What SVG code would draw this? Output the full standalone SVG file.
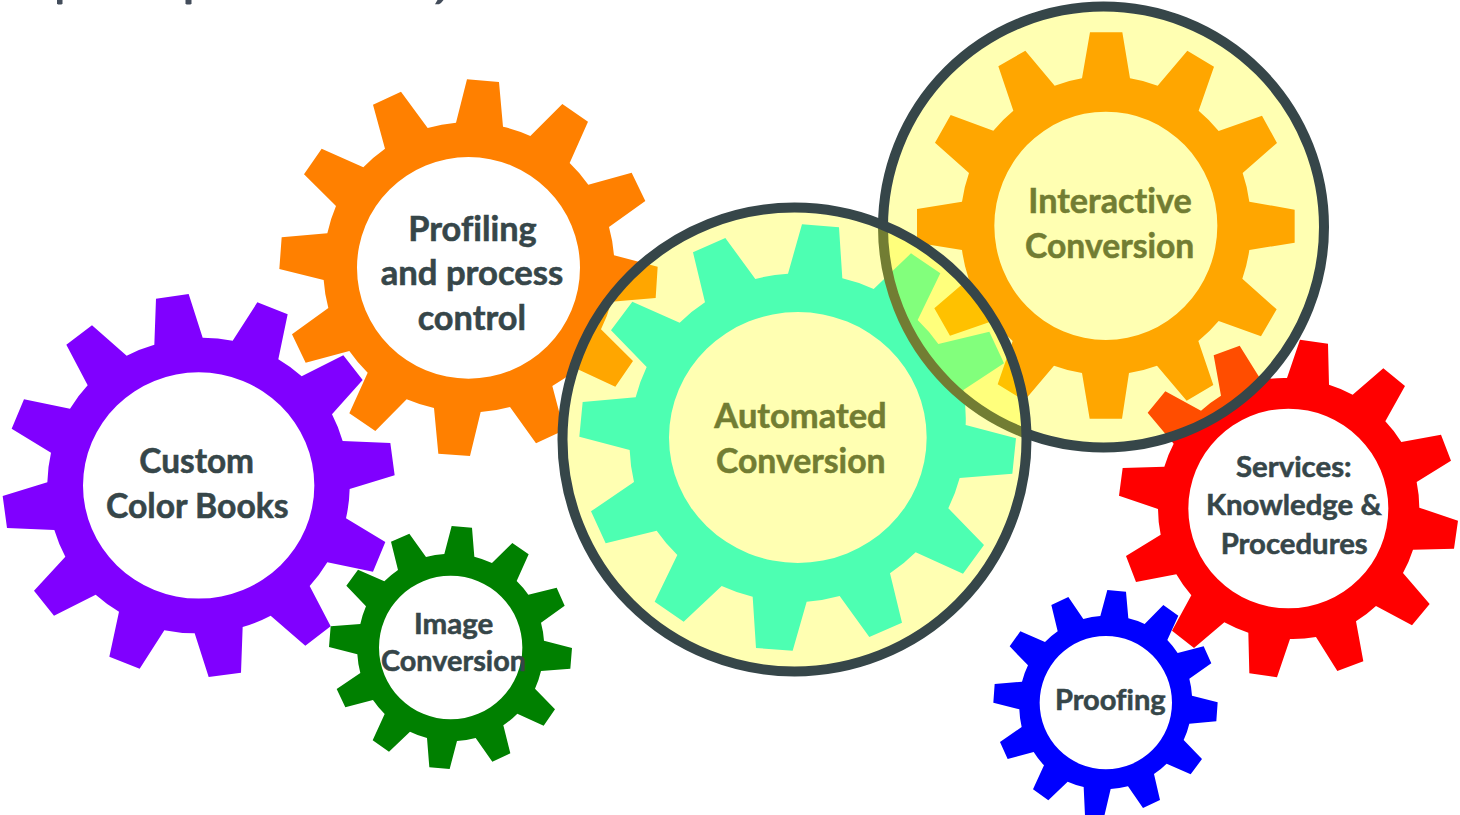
<svg xmlns="http://www.w3.org/2000/svg" width="1460" height="815" viewBox="0 0 1460 815">
<style>
text{font-family:"Lato","Carlito","Liberation Sans",sans-serif;font-weight:700;fill:#364649;stroke:#364649;stroke-width:.55;text-anchor:middle;font-variant-ligatures:none}
.l{font-size:33.5px}.s{font-size:29px}
.z{fill-rule:evenodd}
.halo{fill:#ffff00;fill-opacity:.3;stroke:none}
.ring{fill:none;stroke:#364649;stroke-width:10}
.frag{fill:#434d5b}
</style>
<rect width="1460" height="815" fill="#fff"/>
<g id="title-fragment"><polygon class="frag" points="57,0 62.5,0 62.5,3.6 61.5,4.4 58,4.4 57,3.6"/><polygon class="frag" points="185.5,0 191.5,0 191.5,3.6 190.5,4.4 186.5,4.4 185.5,3.6"/><polygon class="frag" points="437.5,0 443.5,0 441,3 439,4.3 435,4.3"/></g>

<g id="custom-color-books">
<path class="z" fill="#8000ff" transform="translate(0,285) scale(.33333)" d="M468 41L566 27L608 158A450 450 0 0 1 698 167L772 52L863 88L835 223A450 450 0 0 1 905 274L1030 211L1088 285L996 388A450 450 0 0 1 1028 468L1171 474L1184 571L1049 612A450 450 0 0 1 1038 700L1156 771L1119 860L982 832A450 450 0 0 1 929 903L992 1024L916 1082L812 992A450 450 0 0 1 728 1026L723 1163L626 1176L584 1045A450 450 0 0 1 493 1036L419 1151L328 1115L357 980A450 450 0 0 1 287 929L162 992L102 917L196 815A450 450 0 0 1 163 735L21 729L8 633L142 592A450 450 0 0 1 153 503L35 431L72 343L210 371A450 450 0 0 1 263 301L199 179L276 121L380 212A450 450 0 0 1 463 179ZM249 601.5A347 339.5 0 0 0 943 601.5A347 339.5 0 0 0 249 601.5Z"/>
<text class="l" x="196.7" y="472.5" textLength="114.7" lengthAdjust="spacingAndGlyphs">Custom</text>
<text class="l" x="197.3" y="517.5" textLength="182.7" lengthAdjust="spacingAndGlyphs">Color Books</text>
</g>

<g id="profiling">
<path class="z" fill="#ff8000" transform="translate(270,70) scale(.33333)" d="M591 28L687 36L699 170A440 440 0 0 1 781 198L877 102L954 155L899 279A440 440 0 0 1 955 344L1085 308L1126 393L1017 471A440 440 0 0 1 1032 556L1163 590L1157 684L1024 695A440 440 0 0 1 993 778L1089 873L1036 950L920 896A440 440 0 0 1 847 948L882 1081L798 1120L720 1011A440 440 0 0 1 632 1026L600 1158L505 1151L492 1014A440 440 0 0 1 410 988L316 1083L238 1030L293 908A440 440 0 0 1 238 843L107 878L66 793L175 714A440 440 0 0 1 161 630L28 597L35 502L172 490A440 440 0 0 1 198 408L102 313L155 236L280 292A440 440 0 0 1 345 236L309 104L393 65L473 174A440 440 0 0 1 558 158ZM261 593.5A334.500 332.500 0 0 0 930 593.5A334.500 332.500 0 0 0 261 593.5Z"/>
<text class="l" x="472.5" y="240.8" textLength="128.3" lengthAdjust="spacingAndGlyphs">Profiling</text>
<text class="l" x="472" y="284.8" textLength="182.7" lengthAdjust="spacingAndGlyphs">and process</text>
<text class="l" x="471.8" y="329.8" textLength="108.3" lengthAdjust="spacingAndGlyphs">control</text>
</g>

<g id="image-conversion">
<path class="z" fill="#008000" transform="translate(320,520) scale(.33333)" d="M395 18L456 23L463 110A280 280 0 0 1 516 129L577 69L626 103L590 183A280 280 0 0 1 625 224L710 203L734 257L663 308A280 280 0 0 1 672 362L756 384L751 446L663 453A280 280 0 0 1 645 506L705 568L671 617L592 581A280 280 0 0 1 550 616L571 700L517 725L467 654A280 280 0 0 1 411 663L389 747L328 742L321 654A280 280 0 0 1 270 635L207 695L158 661L194 582A280 280 0 0 1 159 540L76 562L50 507L121 459A280 280 0 0 1 112 403L27 381L32 319L121 312A280 280 0 0 1 138 259L79 197L114 149L193 184A280 280 0 0 1 234 150L213 65L268 41L318 111A280 280 0 0 1 373 102ZM177 382.500A215 215.500 0 0 0 607 382.500A215 215.500 0 0 0 177 382.500Z"/>
<text class="s" x="453.700" y="634" textLength="79.3" lengthAdjust="spacingAndGlyphs">Image</text>
<text class="s" x="453.500" y="671.2" textLength="145" lengthAdjust="spacingAndGlyphs">Conversion</text>
</g>

<g id="proofing">
<path class="z" fill="#0000ff" transform="translate(985,585) scale(.33333)" d="M367 15L423 20L430 100A258 258 0 0 1 479 117L535 60L580 92L547 165A258 258 0 0 1 578 204L656 184L679 235L613 281A258 258 0 0 1 621 332L698 352L694 409L613 416A258 258 0 0 1 596 465L651 522L617 568L545 536A258 258 0 0 1 507 567L525 645L474 669L429 604A258 258 0 0 1 377 612L357 697L300 692L296 606A258 258 0 0 1 248 590L190 646L144 613L177 541A258 258 0 0 1 146 501L68 522L45 471L110 426A258 258 0 0 1 103 373L25 353L29 297L111 290A258 258 0 0 1 129 241L74 184L106 139L180 171A258 258 0 0 1 218 139L199 60L250 36L295 102A258 258 0 0 1 346 93ZM164 353A198.500 200 0 0 0 561 353A198.500 200 0 0 0 164 353Z"/>
<text class="s" x="1110.3" y="710" textLength="110.700" lengthAdjust="spacingAndGlyphs">Proofing</text>
</g>

<g id="services">
<path class="z" fill="#ff0000" transform="translate(1110,330) scale(.33333)" d="M570 29L654 41L657 164A395 395 0 0 1 728 194L820 115L885 168L826 274A395 395 0 0 1 874 336L993 314L1023 392L920 456A395 395 0 0 1 928 533L1044 572L1032 656L909 659A395 395 0 0 1 879 729L959 822L906 886L798 828A395 395 0 0 1 738 874L760 994L682 1023L618 921A395 395 0 0 1 540 927L501 1042L418 1030L415 908A395 395 0 0 1 343 877L252 954L186 902L244 796A395 395 0 0 1 199 733L78 756L48 678L152 614A395 395 0 0 1 144 537L27 497L38 414L163 410A395 395 0 0 1 191 341L113 248L166 184L273 242A395 395 0 0 1 333 197L311 76L389 47L453 150A395 395 0 0 1 531 144ZM235 535.5A300 299.500 0 0 0 835 535.5A300 299.500 0 0 0 235 535.5Z"/>
<text class="s" x="1293.8" y="476.7" textLength="115.700" lengthAdjust="spacingAndGlyphs">Services:</text>
<text class="s" x="1293.8" y="515" textLength="175.700" lengthAdjust="spacingAndGlyphs">Knowledge &amp;</text>
<text class="s" x="1294.2" y="554" textLength="147" lengthAdjust="spacingAndGlyphs">Procedures</text>
</g>

<g id="automated-conversion">
<path class="z" fill="#00ffff" transform="translate(570,215) scale(.33333)" d="M696 28L807 37L817 190A495 495 0 0 1 911 222L1023 115L1111 175L1043 315A495 495 0 0 1 1105 387L1258 350L1302 445L1180 525A495 495 0 0 1 1187 630L1338 670L1327 776L1169 789A495 495 0 0 1 1135 880L1242 990L1179 1076L1037 1012A495 495 0 0 1 960 1075L996 1223L898 1266L809 1143A495 495 0 0 1 710 1160L668 1307L558 1299L548 1145A495 495 0 0 1 455 1113L341 1220L254 1160L322 1020A495 495 0 0 1 260 947L107 985L63 889L192 801A495 495 0 0 1 179 705L28 665L38 561L197 547A495 495 0 0 1 230 456L123 346L187 260L329 323A495 495 0 0 1 405 262L369 112L466 69L556 192A495 495 0 0 1 654 176ZM297 667.5A386.500 376.500 0 0 0 1070 667.5A386.500 376.500 0 0 0 297 667.5Z"/>
<text class="l" x="800.5" y="427.5" textLength="172.3" lengthAdjust="spacingAndGlyphs">Automated</text>
<text class="l" x="800.8" y="472.5" textLength="169.7" lengthAdjust="spacingAndGlyphs">Conversion</text>
</g>

<g id="interactive-conversion">
<path class="z" fill="#ff8000" transform="translate(905,25) scale(.33333)" d="M555 22L652 22L675 160A445 445 0 0 1 758 182L847 77L927 125L881 257A445 445 0 0 1 941 318L1071 272L1116 354L1013 444A445 445 0 0 1 1033 530L1169 554L1169 653L1033 675A445 445 0 0 1 1012 761L1115 853L1068 934L941 888A445 445 0 0 1 880 948L925 1080L845 1127L756 1022A445 445 0 0 1 672 1044L651 1181L554 1181L531 1044A445 445 0 0 1 447 1022L358 1127L278 1078L323 948A445 445 0 0 1 265 887L135 932L88 850L191 761A445 445 0 0 1 171 675L36 653L36 552L171 530A445 445 0 0 1 192 444L90 353L137 270L265 317A445 445 0 0 1 325 257L280 124L361 77L449 182A445 445 0 0 1 531 160ZM268 602.5A334.500 342.500 0 0 0 937 602.5A334.500 342.500 0 0 0 268 602.5Z"/>
<text class="l" x="1110" y="212.5" textLength="163.3" lengthAdjust="spacingAndGlyphs">Interactive</text>
<text class="l" x="1109.700" y="257.500" textLength="169.3" lengthAdjust="spacingAndGlyphs">Conversion</text>
</g>

<g id="interactive-highlight"><circle class="halo" cx="1103.5" cy="227" r="220.5"/><circle class="ring" cx="1103.5" cy="227" r="220.5"/></g>
<g id="automated-highlight"><circle class="halo" cx="794.5" cy="439.5" r="232"/><circle class="ring" cx="794.5" cy="439.5" r="232"/></g>
</svg>
